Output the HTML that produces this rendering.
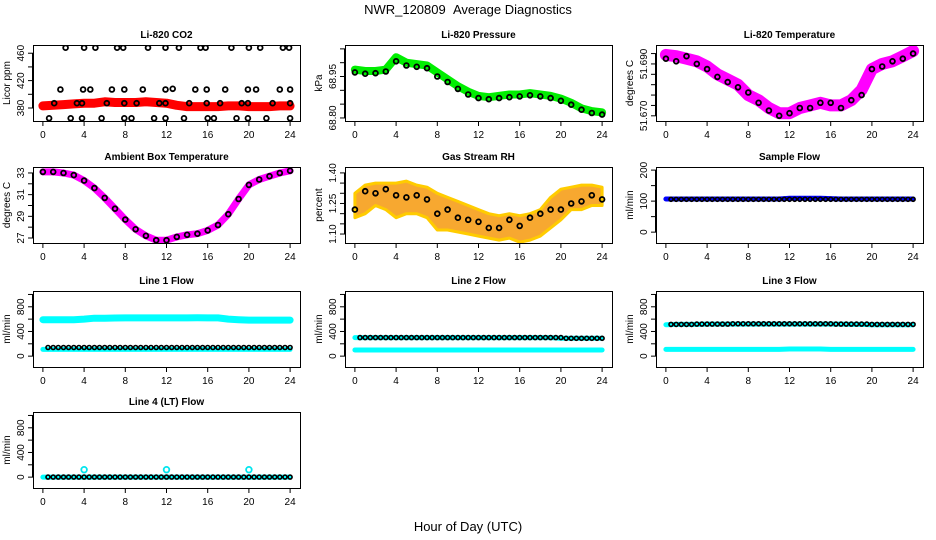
<!DOCTYPE html>
<html><head><meta charset="utf-8"><style>
html,body{margin:0;padding:0;background:#fff;}
svg{display:block;font-family:"Liberation Sans",sans-serif;}
</style></head><body>
<svg id="chart" width="936" height="540" viewBox="0 0 936 540">
<text x="468" y="14" text-anchor="middle" font-size="13">NWR_120809 &#160;Average Diagnostics</text>
<text x="468" y="531" text-anchor="middle" font-size="13">Hour of Day (UTC)</text>
</svg>
<script>
// ---- shared categories ----
const hours = [0,1,2,3,4,5,6,7,8,9,10,11,12,13,14,15,16,17,18,19,20,21,22,23,24];
const halfHours = [0.5,1,1.5,2,2.5,3,3.5,4,4.5,5,5.5,6,6.5,7,7.5,8,8.5,9,9.5,10,10.5,11,11.5,12,12.5,13,13.5,14,14.5,15,15.5,16,16.5,17,17.5,18,18.5,19,19.5,20,20.5,21,21.5,22,22.5,23,23.5,24];
const xTicks = [0,4,8,12,16,20,24];

// ---- CO2 ----
const co2Band = [383,384,385,386,387,387,389,388,388,388,389,388,387,384,382,382,382,382,383,383,382,382,382,383,383];
const co2HiHours = [2.2,4.0,5.1,7.2,7.8,10.2,11.9,13.2,15.3,15.8,18.3,20.0,21.1,23.3,23.9];
const co2HiVals = [468,468,468,468,468,468,468,468,468,468,468,468,468,468,468];
const co2MidHours = [1.7,3.9,4.6,6.7,7.9,9.7,11.9,12.6,14.8,15.9,17.7,19.9,20.7,23.0,24.0];
const co2MidVals = [407,407,407,407,407,407,407,408,407,407,407,407,407,407,407];
const co2LowHours = [1.1,3.3,3.8,6.2,7.9,9.1,11.3,11.9,14.2,15.9,17.2,19.3,19.9,22.3,24.0];
const co2LowVals = [387,387,387,387,387,387,387,387,387,387,387,387,387,387,387];
const co2MinHours = [0.6,2.7,3.8,5.7,7.9,8.6,10.8,11.9,13.7,16.0,16.6,18.8,19.9,21.7,24.0];
const co2MinVals = [365,365,365,365,365,365,365,365,365,365,365,365,365,365,365];

// ---- Pressure ----
const presBand = [68.975,68.970,68.970,68.975,69.02,69.00,68.995,68.99,68.965,68.94,68.915,68.895,68.88,68.875,68.88,68.885,68.885,68.89,68.885,68.88,68.87,68.855,68.835,68.825,68.82];
const presPts = [68.965,68.960,68.962,68.968,69.005,68.99,68.985,68.98,68.950,68.93,68.905,68.885,68.872,68.868,68.872,68.875,68.878,68.882,68.878,68.872,68.862,68.848,68.830,68.818,68.812];

// ---- Li-820 temperature ----
const tempBand = [51.6935,51.693,51.692,51.691,51.689,51.686,51.684,51.682,51.678,51.676,51.673,51.671,51.671,51.673,51.674,51.675,51.674,51.674,51.676,51.680,51.688,51.690,51.691,51.693,51.695];
const tempPts = [51.692,51.691,51.693,51.690,51.688,51.685,51.683,51.681,51.679,51.675,51.672,51.670,51.671,51.673,51.673,51.675,51.675,51.673,51.676,51.678,51.688,51.689,51.691,51.692,51.694];

// ---- Ambient box temperature ----
const ambBand = [33.1,33.1,33.0,32.8,32.3,31.6,30.7,29.7,28.7,27.8,27.2,26.8,26.8,27.1,27.3,27.4,27.7,28.2,29.2,30.6,31.9,32.4,32.7,33.0,33.2];

// ---- Gas stream RH ----
const rhUpper = [1.30,1.34,1.35,1.35,1.35,1.36,1.34,1.33,1.30,1.28,1.26,1.24,1.22,1.20,1.19,1.20,1.19,1.20,1.22,1.28,1.32,1.33,1.34,1.34,1.33];
const rhLower = [1.18,1.20,1.24,1.22,1.18,1.20,1.20,1.18,1.12,1.12,1.11,1.10,1.09,1.08,1.07,1.08,1.06,1.07,1.09,1.13,1.17,1.22,1.22,1.24,1.24];
const rhPts = [1.22,1.31,1.30,1.32,1.29,1.28,1.29,1.27,1.20,1.22,1.18,1.17,1.16,1.13,1.13,1.17,1.14,1.18,1.20,1.22,1.22,1.25,1.26,1.29,1.27];

// ---- Flows ----
const sampleBand = [107,107,107,107,107,107,107,107,107,107,107,107,109,109,109,109,108,107,107,107,107,107,107,107,107];
const sampleBlack = [106,106,106,106,106,106,106,106,106,106,106,106,106,106,106,106,106,106,106,106,106,106,106,106,106,106,106,106,106,106,106,106,106,106,106,106,106,106,106,106,106,106,106,106,106,106,106,106];
const line1Upper = [590,590,590,590,600,615,615,618,620,620,620,620,620,620,620,622,620,620,600,590,585,585,585,585,585];
const line1Lower = [110,110,110,110,110,110,110,110,110,110,110,110,110,110,110,110,110,110,110,110,110,110,110,110,110];
const line1Black = [140,140,140,140,140,140,140,140,140,140,140,140,140,140,140,140,140,140,140,140,140,140,140,140,140,140,140,140,140,140,140,140,140,140,140,140,140,140,140,140,140,140,140,140,140,140,140,140];
const line2Upper = [300,300,300,300,300,300,300,300,300,300,300,300,300,300,300,300,300,300,300,300,290,290,290,290,290];
const line2Lower = [100,100,100,100,100,100,100,100,100,100,100,100,100,100,100,100,100,100,100,100,100,100,100,100,100];
const line2Black = [300,300,300,300,300,300,300,300,300,300,300,300,300,300,300,300,300,300,300,300,300,300,300,300,300,300,300,300,300,300,300,300,300,300,300,300,300,300,300,300,290,290,290,290,290,290,290,290];
const line3Upper = [510,515,515,515,520,520,520,520,520,520,520,520,520,520,520,520,520,520,515,515,510,510,510,510,510];
const line3Lower = [110,110,110,110,110,110,110,110,110,110,110,110,115,115,115,115,110,110,110,110,110,110,110,110,110];
const line3Black = [515,515,515,515,515,520,520,520,520,520,520,520,525,525,525,525,525,525,525,525,525,525,525,525,525,525,525,525,525,525,525,525,520,520,520,520,520,520,520,515,515,515,515,515,515,515,515,515];
const line4Band = [0,0,0,0,0,0,0,0,0,0,0,0,0,0,0,0,0,0,0,0,0,0,0,0,0];
const line4OutHours = [4,12,20];
const line4OutVals = [120,120,120];
const line4Black = [0,0,0,0,0,0,0,0,0,0,0,0,0,0,0,0,0,0,0,0,0,0,0,0,0,0,0,0,0,0,0,0,0,0,0,0,0,0,0,0,0,0,0,0,0,0,0,0];

const NS = 'http://www.w3.org/2000/svg';
const svg = document.getElementById('chart');
const W = 267, H = 76;
const colX = [33, 345, 656];
const rowY = [45, 167, 291, 412];

function mk(tag, attrs, parent) {
  const e = document.createElementNS(NS, tag);
  for (const k in attrs) e.setAttribute(k, attrs[k]);
  (parent || svg).appendChild(e);
  return e;
}

function panel(cfg) {
  const L = colX[cfg.col], T = rowY[cfg.row];
  const g = mk('g', {});
  
  
  const xs = h => L + (h + 0.96) / 25.92 * W;
  const ys = v => T + H - (v - cfg.ylim[0]) / (cfg.ylim[1] - cfg.ylim[0]) * H;
  const clipId = 'clip-' + cfg.name;
  const cp = mk('clipPath', { id: clipId }, g);
  mk('rect', { x: L, y: T, width: W, height: H }, cp);
  const pg = mk('g', { 'clip-path': 'url(#' + clipId + ')' }, g);
  
  
  cfg.series.forEach(s => {
    if (s.type === 'band') {
      const pts = s.x.map((h, i) => xs(h).toFixed(1) + ',' + ys(s.y[i]).toFixed(1)).join(' ');
      const pl = mk('polyline', { points: pts, fill: 'none', stroke: s.color, 'stroke-width': s.w, 'stroke-linejoin': 'round', 'stroke-linecap': 'round' }, pg);
      
      
    } else if (s.type === 'area') {
      const up = s.x.map((h, i) => xs(h).toFixed(1) + ',' + ys(s.hi[i]).toFixed(1));
      const dn = s.x.map((h, i) => xs(h).toFixed(1) + ',' + ys(s.lo[i]).toFixed(1)).reverse();
      const pgn = mk('polygon', { points: up.concat(dn).join(' '), fill: s.color, stroke: s.stroke, 'stroke-width': 3, 'stroke-linejoin': 'round' }, pg);
      
      
    } else {
      const sg = mk('g', {}, pg);
      
      
      s.x.forEach((h, i) => {
        const c = mk('circle', { cx: xs(h).toFixed(1), cy: ys(s.y[i]).toFixed(1), r: s.r || 2.4, fill: 'none', stroke: s.color, 'stroke-width': s.sw || 1.8 }, sg);
        
        
      });
    }
  });
  const box = mk('rect', { x: L + 0.5, y: T + 0.5, width: W, height: H, fill: 'none', stroke: '#000', 'stroke-width': 1 }, g);
  
  
  const xa = mk('g', {}, g);
  
  
  mk('line', { x1: xs(xTicks[0]), x2: xs(xTicks[xTicks.length - 1]), y1: T + H + 0.5, y2: T + H + 0.5, stroke: '#000' }, xa);
  xTicks.forEach(t => {
    mk('line', { x1: xs(t), x2: xs(t), y1: T + H, y2: T + H + 5, stroke: '#000' }, xa);
    const tx = mk('text', { x: xs(t), y: T + H + 17, 'text-anchor': 'middle', 'font-size': 10 }, xa);
    tx.textContent = t;
    
    
  });
  const ya = mk('g', {}, g);
  
  
  const yt = cfg.yticks;
  mk('line', { x1: L - 0.5, x2: L - 0.5, y1: ys(yt[0]), y2: ys(yt[yt.length - 1]), stroke: '#000' }, ya);
  yt.forEach(t => {
    mk('line', { x1: L - 5, x2: L, y1: ys(t), y2: ys(t), stroke: '#000' }, ya);
  });
  cfg.ylabels.forEach((t, i) => {
    const y = ys(cfg.ylabelVals[i]);
    const tx = mk('text', { x: L - 9, y: y, 'text-anchor': 'middle', 'font-size': 10, transform: 'rotate(-90 ' + (L - 9) + ' ' + y + ')' }, ya);
    tx.textContent = t;
    
    
  });
  const my = T + H / 2, mx = L - 23;
  const yl = mk('text', { x: mx, y: my, 'text-anchor': 'middle', 'font-size': 10, transform: 'rotate(-90 ' + mx + ' ' + my + ')' }, g);
  yl.textContent = cfg.ylab;
  
  
  const ti = mk('text', { x: L + W / 2, y: T - 7, 'text-anchor': 'middle', 'font-size': 10, 'font-weight': 'bold' }, g);
  ti.textContent = cfg.title;
  
  
}

const flowTicks = [0, 200, 400, 600, 800, 1000];
const flowLim = [-176, 1056];

panel({ name: 'co2-panel', col: 0, row: 0, title: 'Li-820 CO2', ylab: 'Licor ppm', ylim: [361, 472],
  yticks: [380, 400, 420, 440, 460], ylabels: ['380', '420', '460'], ylabelVals: [380, 420, 460],
  series: [
    { type: 'band', name: 'co2-raw', x: hours, y: co2Band, color: '#ff0000', w: 9 },
    { type: 'pts', name: 'co2-avg-high', x: co2HiHours, y: co2HiVals, color: '#000' },
    { type: 'pts', name: 'co2-avg-mid', x: co2MidHours, y: co2MidVals, color: '#000' },
    { type: 'pts', name: 'co2-avg-low', x: co2LowHours, y: co2LowVals, color: '#000' },
    { type: 'pts', name: 'co2-avg-min', x: co2MinHours, y: co2MinVals, color: '#000' }
  ] });

panel({ name: 'pressure-panel', col: 1, row: 0, title: 'Li-820 Pressure', ylab: 'kPa', ylim: [68.789, 69.064],
  yticks: [68.80, 68.85, 68.90, 68.95, 69.00, 69.05], ylabels: ['68.80', '68.95'], ylabelVals: [68.80, 68.95],
  series: [
    { type: 'band', name: 'pressure-raw', x: hours, y: presBand, color: '#00ee00', w: 8 },
    { type: 'pts', name: 'pressure-avg', x: hours, y: presPts, color: '#000' }
  ] });

panel({ name: 'temperature-panel', col: 2, row: 0, title: 'Li-820 Temperature', ylab: 'degrees C', ylim: [51.668, 51.6973],
  yticks: [51.670, 51.674, 51.678, 51.682, 51.686, 51.690, 51.694], ylabels: ['51.670', '51.690'], ylabelVals: [51.670, 51.690],
  series: [
    { type: 'band', name: 'temperature-raw', x: hours, y: tempBand, color: '#ff00ff', w: 12 },
    { type: 'pts', name: 'temperature-avg', x: hours, y: tempPts, color: '#000' }
  ] });

panel({ name: 'ambient-temp-panel', col: 0, row: 1, title: 'Ambient Box Temperature', ylab: 'degrees C', ylim: [26.54, 33.55],
  yticks: [27, 28, 29, 30, 31, 32, 33], ylabels: ['27', '29', '31', '33'], ylabelVals: [27, 29, 31, 33],
  series: [
    { type: 'band', name: 'ambient-raw', x: hours, y: ambBand, color: '#ff00ff', w: 7 },
    { type: 'pts', name: 'ambient-avg', x: hours, y: ambBand, color: '#000' }
  ] });

panel({ name: 'rh-panel', col: 1, row: 1, title: 'Gas Stream RH', ylab: 'percent', ylim: [1.056, 1.429],
  yticks: [1.10, 1.15, 1.20, 1.25, 1.30, 1.35, 1.40], ylabels: ['1.10', '1.25', '1.40'], ylabelVals: [1.10, 1.25, 1.40],
  series: [
    { type: 'area', name: 'rh-raw', x: hours, hi: rhUpper, lo: rhLower, color: '#f7a830', stroke: '#ffcc00' },
    { type: 'pts', name: 'rh-avg', x: hours, y: rhPts, color: '#000' }
  ] });

panel({ name: 'sample-flow-panel', col: 2, row: 1, title: 'Sample Flow', ylab: 'ml/min', ylim: [-35, 210],
  yticks: [0, 50, 100, 150, 200], ylabels: ['0', '100', '200'], ylabelVals: [0, 100, 200],
  series: [
    { type: 'band', name: 'sample-raw', x: hours, y: sampleBand, color: '#0000ff', w: 5 },
    { type: 'pts', name: 'sample-avg', x: halfHours, y: sampleBlack, color: '#000', r: 2, sw: 1.6 }
  ] });

panel({ name: 'line1-flow-panel', col: 0, row: 2, title: 'Line 1 Flow', ylab: 'ml/min', ylim: flowLim,
  yticks: flowTicks, ylabels: ['0', '400', '800'], ylabelVals: [0, 400, 800],
  series: [
    { type: 'band', name: 'line1-raw-high', x: hours, y: line1Upper, color: '#00ffff', w: 7 },
    { type: 'band', name: 'line1-raw-low', x: hours, y: line1Lower, color: '#00ffff', w: 5 },
    { type: 'pts', name: 'line1-avg', x: halfHours, y: line1Black, color: '#000', r: 2, sw: 1.6 }
  ] });

panel({ name: 'line2-flow-panel', col: 1, row: 2, title: 'Line 2 Flow', ylab: 'ml/min', ylim: flowLim,
  yticks: flowTicks, ylabels: ['0', '400', '800'], ylabelVals: [0, 400, 800],
  series: [
    { type: 'band', name: 'line2-raw-high', x: hours, y: line2Upper, color: '#00ffff', w: 5 },
    { type: 'band', name: 'line2-raw-low', x: hours, y: line2Lower, color: '#00ffff', w: 5 },
    { type: 'pts', name: 'line2-avg', x: halfHours, y: line2Black, color: '#000', r: 2, sw: 1.6 }
  ] });

panel({ name: 'line3-flow-panel', col: 2, row: 2, title: 'Line 3 Flow', ylab: 'ml/min', ylim: flowLim,
  yticks: flowTicks, ylabels: ['0', '400', '800'], ylabelVals: [0, 400, 800],
  series: [
    { type: 'band', name: 'line3-raw-high', x: hours, y: line3Upper, color: '#00ffff', w: 5 },
    { type: 'band', name: 'line3-raw-low', x: hours, y: line3Lower, color: '#00ffff', w: 5 },
    { type: 'pts', name: 'line3-avg', x: halfHours, y: line3Black, color: '#000', r: 2, sw: 1.6 }
  ] });

panel({ name: 'line4-flow-panel', col: 0, row: 3, title: 'Line 4 (LT) Flow', ylab: 'ml/min', ylim: flowLim,
  yticks: flowTicks, ylabels: ['0', '400', '800'], ylabelVals: [0, 400, 800],
  series: [
    { type: 'band', name: 'line4-raw', x: hours, y: line4Band, color: '#00ffff', w: 5 },
    { type: 'pts', name: 'line4-outliers', x: line4OutHours, y: line4OutVals, color: '#00e5ee', r: 2.8, sw: 1.8 },
    { type: 'pts', name: 'line4-avg', x: halfHours, y: line4Black, color: '#000', r: 2, sw: 1.6 }
  ] });
</script>
</body></html>
